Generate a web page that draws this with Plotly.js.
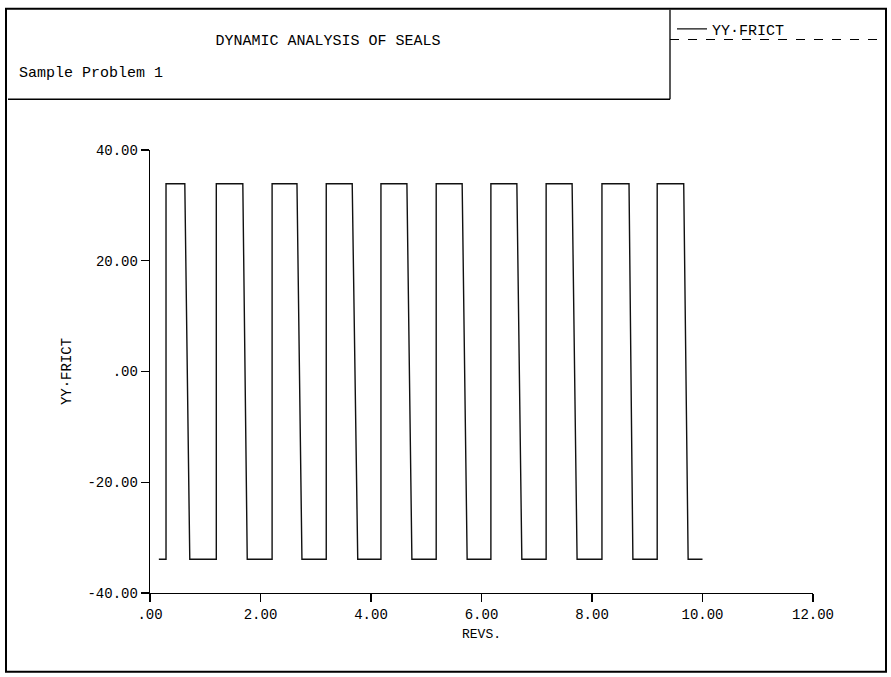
<!DOCTYPE html>
<html>
<head>
<meta charset="utf-8">
<script src="https://cdn.plot.ly/plotly-3.0.1.min.js"></script>
<style>html,body{margin:0;padding:0;background:#fff;}#chart{width:891px;height:677px;}</style>
</head>
<body>
<div id="chart"></div>
<script>
// ---- data ----
const revs = [0.16,
  0.29, 0.29, 0.63, 0.72,
  1.20, 1.20, 1.68, 1.76,
  2.21, 2.21, 2.66, 2.75,
  3.19, 3.19, 3.66, 3.76,
  4.18, 4.18, 4.65, 4.74,
  5.18, 5.18, 5.65, 5.74,
  6.17, 6.17, 6.64, 6.73,
  7.17, 7.17, 7.64, 7.73,
  8.18, 8.18, 8.67, 8.74,
  9.18, 9.18, 9.66, 9.74,
  10.00];
const yyFrict = [-33.9,
  -33.9, 33.9, 33.9, -33.9,
  -33.9, 33.9, 33.9, -33.9,
  -33.9, 33.9, 33.9, -33.9,
  -33.9, 33.9, 33.9, -33.9,
  -33.9, 33.9, 33.9, -33.9,
  -33.9, 33.9, 33.9, -33.9,
  -33.9, 33.9, 33.9, -33.9,
  -33.9, 33.9, 33.9, -33.9,
  -33.9, 33.9, 33.9, -33.9,
  -33.9, 33.9, 33.9, -33.9,
  -33.9];
const xTickVals = [0, 2, 4, 6, 8, 10, 12];
const xTickText = [".00", "2.00", "4.00", "6.00", "8.00", "10.00", "12.00"];
const yTickVals = [40, 20, 0, -20, -40];
const yTickText = ["40.00", "20.00", ".00", "-20.00", "-40.00"];
const seriesName = "YY\u00B7FRICT";
const chartTitle = "DYNAMIC ANALYSIS OF SEALS";
const subTitle = "Sample Problem 1";
const xTitle = "REVS.";
const yTitle = "YY\u00B7FRICT";

// ---- layout geometry (pixels) ----
const FIG_W = 891, FIG_H = 677;
const M = {l: 150, r: 78, t: 148, b: 84};
const PW = FIG_W - M.l - M.r, PH = FIG_H - M.t - M.b;
const px = x => (x - M.l) / PW;
const py = y => (FIG_H - M.b - y) / PH;
const FONT = "'Courier New', 'Liberation Mono', monospace";

function seg(x0, y0, x1, y1, w, dash) {
  return {type: 'line', xref: 'paper', yref: 'paper',
    x0: px(x0), y0: py(y0), x1: px(x1), y1: py(y1),
    line: {color: '#000', width: w, dash: dash || 'solid'}};
}

const trace = {
  x: revs, y: yyFrict, type: 'scatter', mode: 'lines', name: seriesName,
  line: {color: '#111', width: 1.4}, showlegend: true
};

const axisCommon = {
  showgrid: false, zeroline: false, showline: true, linecolor: '#000', linewidth: 1.3,
  ticks: 'outside', ticklen: 8, tickwidth: 1.2, tickcolor: '#000',
  tickfont: {family: FONT, size: 14, color: '#000'}, fixedrange: true
};

const layout = {
  width: FIG_W, height: FIG_H,
  margin: M,
  paper_bgcolor: '#fff', plot_bgcolor: '#fff',
  font: {family: FONT, color: '#000'},
  title: {text: chartTitle, x: 328 / FIG_W, xanchor: 'center', xref: 'container',
          y: 1 - 40 / FIG_H, yanchor: 'middle', yref: 'container',
          font: {family: FONT, size: 15, color: '#000'}},
  xaxis: Object.assign({}, axisCommon, {
    range: [0, 12], tickmode: 'array', tickvals: xTickVals, ticktext: xTickText,
    title: {text: xTitle, font: {family: FONT, size: 13, color: '#000'}, standoff: 6}
  }),
  yaxis: Object.assign({}, axisCommon, {
    range: [-40, 40], tickmode: 'array', tickvals: yTickVals, ticktext: yTickText,
    title: {text: yTitle, font: {family: FONT, size: 14, color: '#000'}, standoff: 12}
  }),
  showlegend: true,
  legend: {x: px(672), y: py(10), xanchor: 'left', yanchor: 'top',
    bgcolor: 'rgba(0,0,0,0)', borderwidth: 0,
    font: {family: FONT, size: 15, color: '#000'}},
  annotations: [
    {text: subTitle, xref: 'paper', yref: 'paper', x: px(17), y: py(71),
     xanchor: 'left', yanchor: 'middle', showarrow: false,
     font: {family: FONT, size: 15, color: '#000'}}
  ],
  shapes: [
    {type: 'rect', xref: 'paper', yref: 'paper', x0: px(6), y0: py(6), x1: px(886), y1: py(672),
     line: {color: '#000', width: 2}},
    seg(8, 97, 670, 97, 1.3),
    seg(670, 7, 670, 97, 1.3),
    seg(670, 37, 885, 37, 1.2, 'dash')
  ]
};

Plotly.newPlot('chart', [trace], layout, {displayModeBar: false, staticPlot: true});
</script>
</body>
</html>
